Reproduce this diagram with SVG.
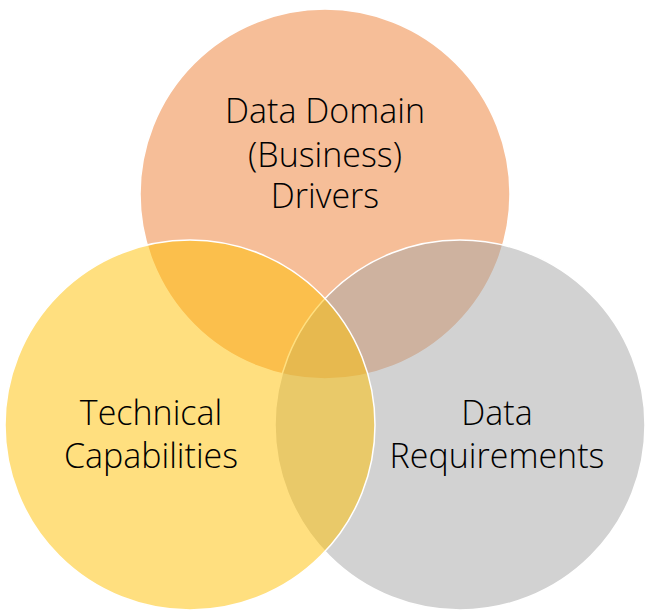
<svg xmlns="http://www.w3.org/2000/svg" width="650" height="615" viewBox="0 0 650 615">
<style>
.c{stroke:#FFFFFF;stroke-width:1.5;fill-opacity:0.5}
.t{font-family:"Open Sans","Liberation Sans",sans-serif;font-weight:300;font-size:34px;fill:#000;text-anchor:middle}
</style>
<rect width="650" height="615" fill="#FFFFFF"/>
<g id="business">
<circle class="c" cx="325" cy="194" r="185" fill="#ED7D31"/>
</g>
<g id="requirements">
<circle class="c" cx="460" cy="425" r="185" fill="#A5A5A5"/>
</g>
<g id="technical">
<circle class="c" cx="190" cy="425" r="185" fill="#FFC000"/>
</g>
<g id="labels">
<text class="t" x="325" y="123">Data Domain</text>
<text class="t" x="325" y="167">(Business)</text>
<text class="t" x="325" y="208">Drivers</text>
<text class="t" x="151" y="425">Technical</text>
<text class="t" x="151" y="468">Capabilities</text>
<text class="t" x="497" y="425">Data</text>
<text class="t" x="497" y="468">Requirements</text>
</g>
<g id="connectors"></g>
</svg>
